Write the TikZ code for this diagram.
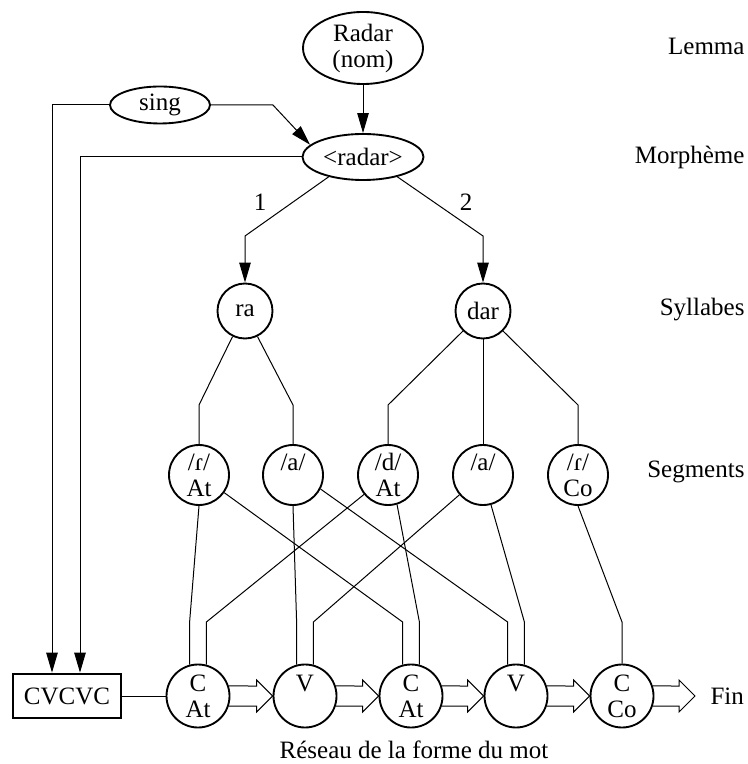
\documentclass[tikz,border=0pt]{standalone}
\usepackage{fontspec}
\setmainfont{Liberation Serif}
\usetikzlibrary{shapes.geometric,arrows.meta,calc}

\begin{document}
\begin{tikzpicture}
  [x=0.4pt,y=-0.4pt,line width=0.4pt,
   every node/.style={font=\fontsize{10}{10.4}\selectfont,align=center,inner sep=0pt},
   ell/.style={ellipse,draw,line width=0.75pt},
   syl/.style={circle,draw,line width=0.75pt,minimum size=22pt},
   seg/.style={circle,draw,line width=0.75pt,minimum size=24pt},
   slot/.style={circle,draw,line width=0.75pt,minimum size=25.2pt},
   niveau/.style={anchor=east},
   fl/.style={-{Triangle[length=8pt,width=4.6pt]}}]
  \useasboundingbox (0,0) rectangle (747,764);

  % lemma, morpheme
  \node[ell,minimum width=48pt,minimum height=28.8pt] (nom) at (363,48) {Radar\\(nom)};
  \node[ell,minimum width=40pt,minimum height=14.8pt] (sing) at (160,105) {sing};
  \node[ell,minimum width=48.4pt,minimum height=18.4pt] (morph) at (363,157) {<radar>};

  % syllables
  \node[syl] (ra)  at (245,311) {ra};
  \node[syl] (dar) at (483,311) {dar};

  % segments
  \node[seg] (s1) at (199,475) {/ɾ/\\At};
  \node[seg] (s2) at (293,475) {/a/\\\phantom{At}};
  \node[seg] (s3) at (388,475) {/d/\\At};
  \node[seg] (s4) at (483,475) {/a/\\\phantom{At}};
  \node[seg] (s5) at (578,475) {/ɾ/\\Co};

  % word form
  \node[draw,line width=1.1pt,minimum width=43.2pt,minimum height=17.6pt] (cv) at (67,696) {CVCVC};
  \node[slot] (c1) at (198,696) {C\\At};
  \node[slot] (v1) at (305,696) {V\\\phantom{At}};
  \node[slot] (c2) at (411,696) {C\\At};
  \node[slot] (v2) at (516,696) {V\\\phantom{At}};
  \node[slot] (c3) at (622,696) {C\\Co};
  \node[anchor=west,inner xsep=6pt] (fin) at (695,696) {Fin};

  % levels
  \node[niveau] (lemma) at (745,46)  {Lemma};
  \node[niveau] (morphe) at (745,157) {Morphème};
  \node[niveau] (sylla) at (745,310) {Syllabes};
  \node[niveau] (segme) at (745,472) {Segments};
  \node (titre) at (414,750) {Réseau de la forme du mot};
  \node (un)   at (260,202) {1};
  \node (deux) at (466,202) {2};

  \coordinate (kS) at (0,236);
  \coordinate (kT) at (0,405);
  \coordinate (kB) at (0,622);
  \coordinate (cvA) at ($(cv.north)+(-15,0)$);
  \coordinate (cvB) at ($(cv.north)+(13,0)$);

  \draw[fl] (nom) -- (morph);
  \draw[fl] (sing.east) -- ++(62,0) -- (morph.167);
  \draw[fl] (morph.-150) -- (ra |- kS) -- (ra);
  \draw[fl] (morph.-30) -- (dar |- kS) -- (dar);
  \draw[fl] (sing.west) -- (sing.west -| cvA) -- (cvA);
  \draw[fl] (morph.west) -- (morph.west -| cvB) -- (cvB);

  \foreach \from/\a/\to in {ra/-116/s1,ra/-64/s2,dar/-135/s3,dar/-45/s5}
    \draw (\from.\a) -- (\to |- kT) -- (\to);
  \draw (dar) -- (s4);

  \foreach \from/\a/\to/\b in {s1/-90/c1/105,s3/-141/c1/75,s2/-90/v1/105,s4/-140/v1/75,
                               s1/-35/c2/105,s3/-73/c2/75,s2/-27/v2/105,s4/-75/v2/75,s5/-90/c3/90}
    \draw (\from.\a) -- (\to.\b |- kB) -- (\to.\b);

  \draw (cv) -- (c1);
  \foreach \from/\to in {c1/v1,v1/c2,c2/v2,v2/c3,c3/fin}
    \draw (\from.18) -- ($(\to.west)+(-16,-10)$) -- ($(\to.west)+(-16,-16)$) -- (\to.west)
      -- ($(\to.west)+(-16,16)$) -- ($(\to.west)+(-16,10)$) -- (\from.-18);

\end{tikzpicture}
\end{document}
